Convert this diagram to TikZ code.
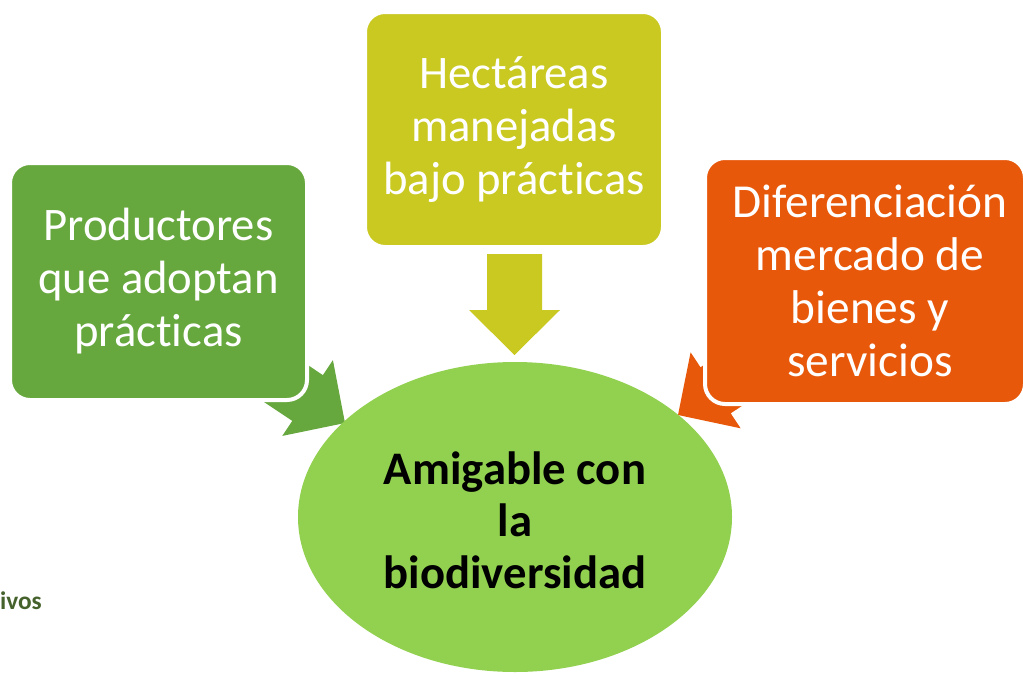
\documentclass[tikz,border=0pt]{standalone}
\usepackage{fontspec}
\setmainfont[RawFeature={-liga;-calt;-clig}]{Carlito}
\begin{document}
\begin{tikzpicture}[x=0.75pt,y=-0.75pt,
  box/.style={draw=white,line width=3pt,rounded corners=15pt,text=white,align=center,
    font=\fontsize{35}{39.75}\selectfont,inner sep=0pt}]
\definecolor{cgreen}{RGB}{103,168,62}
\definecolor{cyellow}{RGB}{201,201,34}
\definecolor{corange}{RGB}{232,88,10}
\definecolor{clight}{RGB}{146,208,80}
\definecolor{cdark}{RGB}{70,98,44}
\useasboundingbox (0,0) rectangle (1023,678);
\clip (0,0) rectangle (1023,678);
% block arrows
\fill[cgreen] (209.1,365.4) -- (292.3,420.9) -- (282.3,435.9) -- (345,423) -- (332.9,360.1) -- (322.9,375.1) -- (239.7,319.6) -- cycle;
\fill[corange] (814.2,358.4) -- (730.7,413.3) -- (740.6,428.3) -- (678,415) -- (690.6,352.3) -- (700.5,367.3) -- (784,312.4) -- cycle;
\fill[cyellow] (487,254) -- (487,310) -- (469,310) -- (514.5,355) -- (560,310) -- (542,310) -- (542,254) -- cycle;
% boxes
\node[box,fill=cgreen,minimum width=222.75pt,minimum height=177.75pt] (prod) at (158.5,281.5)
  {Productores\\que adoptan\\prácticas};
\node[box,fill=cyellow,minimum width=223.5pt,minimum height=176.25pt] (hect) at (514,129.5)
  {Hectáreas\\manejadas\\bajo prácticas};
\node[box,fill=corange,minimum width=240pt,minimum height=184.5pt] (dif) at (865,281)
  {};
\node[text=white,align=center,font=\fontsize{35.5}{39.75}\selectfont,inner sep=0pt] (diftext) at (870,281)
  {Diferenciación\\mercado de\\bienes y\\servicios};
% ellipse
\fill[clight] (515,517) ellipse [x radius=217, y radius=155];
\node[align=center,font=\fontsize{35}{39}\selectfont\bfseries,inner sep=0pt] (amig) at (515,520)
  {Amigable con\\la\\biodiversidad};
% cropped text
\node[anchor=east,text=cdark,font=\fontsize{19}{22}\selectfont\bfseries,inner sep=0pt] (ivos) at (42,601) {ivos};
\end{tikzpicture}
\end{document}
